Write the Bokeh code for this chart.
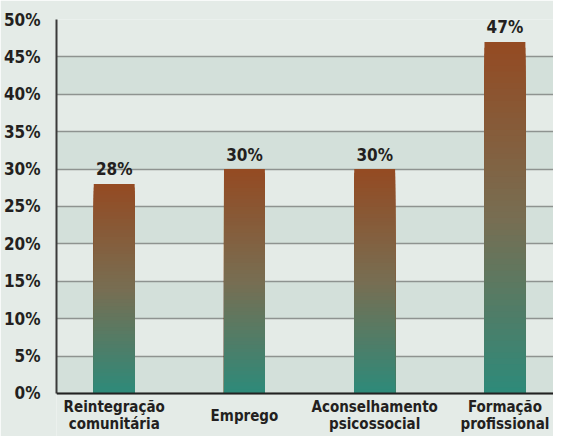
from bokeh.plotting import figure
from bokeh.models import Range1d, FixedTicker, PrintfTickFormatter, Span
from bokeh.core.properties import value
from bokeh.embed import file_html
from bokeh.resources import INLINE

categories = ["Reintegração\ncomunitária", "Emprego", "Aconselhamento\npsicossocial", "Formação\nprofissional"]
values = [28, 30, 30, 47]
value_labels = ["28%", "30%", "30%", "47%"]
y_ticks = list(range(0, 55, 5))

FONT = "DejaVu Sans Condensed"
TXT = "#231f20"
BG = "#e4ebe7"
BAND = "#d3e0da"

p = figure(width=553, height=436, output_backend="svg", toolbar_location=None,
           x_range=Range1d(-0.443, 3.373), y_range=Range1d(-5.75, 50),
           x_axis_location=None,
           min_border_left=55, min_border_right=0, min_border_top=19, min_border_bottom=0)
p.background_fill_color = BG
p.border_fill_color = BG
p.outline_line_color = None

for g in p.xgrid:
    g.visible = False
p.ygrid.ticker = FixedTicker(ticks=y_ticks)
p.ygrid.grid_line_color = "#8e9390"
p.ygrid.grid_line_width = 1.5
p.ygrid.band_fill_color = BAND
p.ygrid.band_fill_alpha = 1.0

p.yaxis.ticker = FixedTicker(ticks=y_ticks)
p.yaxis.bounds = (0, 50)
p.yaxis.formatter = PrintfTickFormatter(format="%d%%")
p.yaxis.major_tick_line_color = None
p.yaxis.minor_tick_line_color = None
p.yaxis.major_label_standoff = 10
p.yaxis.major_label_text_font = FONT
p.yaxis.major_label_text_font_style = "bold"
p.yaxis.major_label_text_font_size = "17px"
p.yaxis.major_label_text_color = TXT
p.yaxis.axis_line_color = "#3a3a3a"
p.yaxis.axis_line_width = 2

# gradient bars: tallest slice first, shorter slices painted over it
def lerp(c1, c2, t):
    return tuple(round(a + (b - a) * t) for a, b in zip(c1, c2))

top_c = (0x94, 0x4a, 0x22)
mid_c = (0x78, 0x6e, 0x52)
bot_c = (0x2d, 0x8a, 0x7a)
N = 60
bw = 0.314
L, R, B, T, C = [], [], [], [], []
for i, v in enumerate(values):
    for k in range(N - 1, -1, -1):
        t = v * (k + 1) / N
        f = (k + 0.5) / N  # 0 bottom, 1 top
        if f < 0.5:
            col = lerp(bot_c, mid_c, f / 0.5)
        else:
            col = lerp(mid_c, top_c, (f - 0.5) / 0.5)
        L.append(i - bw / 2); R.append(i + bw / 2); B.append(0); T.append(t)
        C.append("#%02x%02x%02x" % col)
p.quad(left=L, right=R, bottom=B, top=T, fill_color=C, line_color=None)

p.add_layout(Span(location=0, dimension="width", line_color="#222222", line_width=2))

p.text(x=list(range(len(values))), y=[v + 1.95 for v in values], text=value_labels,
       text_align="center", text_baseline="alphabetic", text_font=value(FONT),
       text_font_style="bold", text_font_size="17px", text_color=TXT)

# category labels below the baseline
cx, cy, ct = [], [], []
for i, cat in enumerate(categories):
    lines = cat.split("\n")
    ys = [-1.87, -4.14] if len(lines) == 2 else [-3.0]
    for line, yy in zip(lines, ys):
        cx.append(i); cy.append(yy); ct.append(line)
p.text(x=cx, y=cy, text=ct, text_align="center", text_baseline="alphabetic",
       text_font=value(FONT), text_font_style="bold", text_font_size="15px", text_color=TXT)

open("out.html", "w").write(file_html(p, INLINE))
